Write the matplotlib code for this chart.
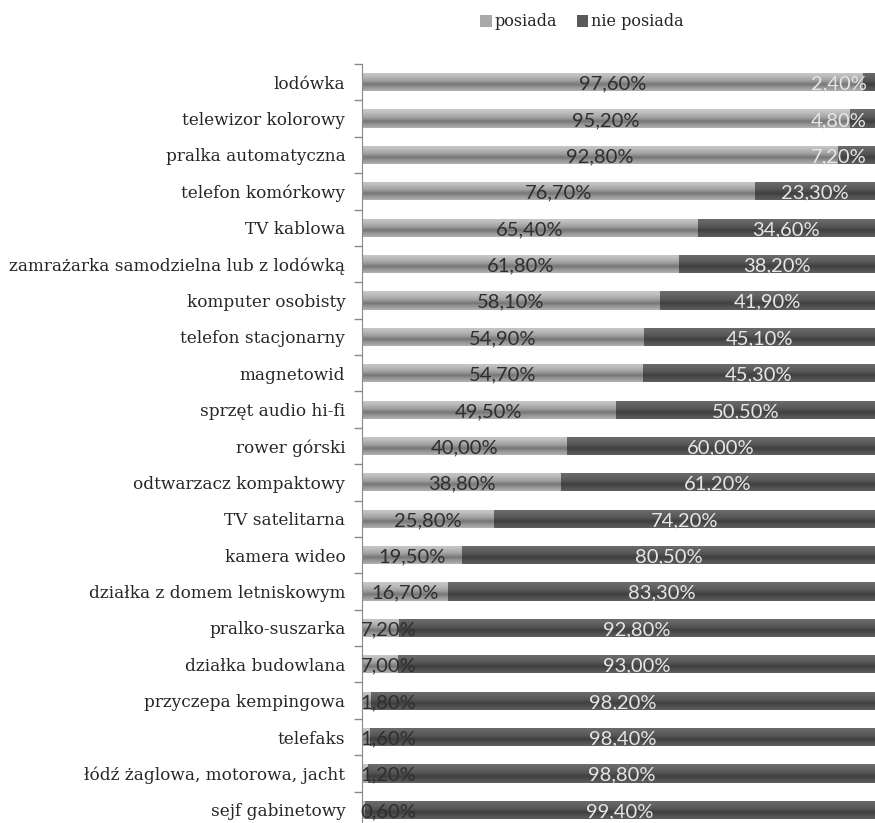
import numpy as np
import matplotlib
matplotlib.use("Agg")
import matplotlib.pyplot as plt
from matplotlib.colors import to_rgb

categories = [
    "lodówka", "telewizor kolorowy", "pralka automatyczna", "telefon komórkowy",
    "TV kablowa", "zamrażarka samodzielna lub z lodówką", "komputer osobisty",
    "telefon stacjonarny", "magnetowid", "sprzęt audio hi-fi", "rower górski",
    "odtwarzacz kompaktowy", "TV satelitarna", "kamera wideo",
    "działka z domem letniskowym", "pralko-suszarka", "działka budowlana",
    "przyczepa kempingowa", "telefaks", "łódź żaglowa, motorowa, jacht",
    "sejf gabinetowy",
]
posiada = [97.6, 95.2, 92.8, 76.7, 65.4, 61.8, 58.1, 54.9, 54.7, 49.5, 40.0,
           38.8, 25.8, 19.5, 16.7, 7.2, 7.0, 1.8, 1.6, 1.2, 0.6]
nie_posiada = [2.4, 4.8, 7.2, 23.3, 34.6, 38.2, 41.9, 45.1, 45.3, 50.5, 60.0,
               61.2, 74.2, 80.5, 83.3, 92.8, 93.0, 98.2, 98.4, 98.8, 99.4]
series_names = ["posiada", "nie posiada"]
series_colors = ["#a8a8a8", "#5a5a5a"]
label_colors = ["#2e2e2e", "#e6e6e6"]

def fmt(v):
    return f"{v:.2f}".replace(".", ",") + "%"

fig = plt.figure(figsize=(8.75, 8.23), dpi=100)
ax = fig.add_axes([362 / 875, -5 / 823, 513 / 875, 764 / 823])

y = np.arange(len(categories))
bar_h = 0.5

# vertical shading profile across each bar (top -> bottom)
prof_t = [0.0, 0.2, 0.45, 0.65, 0.8, 1.0]
prof_f = [1.20, 1.12, 0.95, 0.70, 0.88, 1.05]
tt = np.linspace(0, 1, 64)
shade = np.interp(tt, prof_t, prof_f)

def gradient_image(color):
    base = np.array(to_rgb(color))
    img = np.clip(base[None, :] * shade[:, None], 0, 1)
    return img[:, None, :]

left = np.zeros(len(categories))
for vals, name, col in zip([posiada, nie_posiada], series_names, series_colors):
    bars = ax.barh(y, vals, left=left, height=bar_h, color=col, label=name,
                   edgecolor="none")
    img = gradient_image(col)
    for b in bars:
        x0, y0 = b.get_x(), b.get_y()
        w, h = b.get_width(), b.get_height()
        im = ax.imshow(img, extent=(x0, x0 + w, y0 + h, y0), aspect="auto",
                       interpolation="bilinear", zorder=2)
        im.set_clip_path(b)
    left = left + np.array(vals)

# value labels, kept inside the plot area
half_w = 6.8
for i in range(len(categories)):
    c1 = posiada[i] / 2
    x1 = max(c1, half_w - 1.6)
    ax.text(x1, y[i] + 0.05, fmt(posiada[i]), ha="center", va="center",
            color=label_colors[0], fontsize=14.5, family="Lato", zorder=5)
    c2 = posiada[i] + nie_posiada[i] / 2
    x2 = min(c2, 100 - half_w - 0.3)
    ax.text(x2, y[i] + 0.05, fmt(nie_posiada[i]), ha="center", va="center",
            color=label_colors[1], fontsize=14.5, family="Lato", zorder=5)

ax.set_xlim(0, 100)
ax.set_ylim(len(categories) - 0.5, -0.5)
ax.set_yticks(y)
ax.set_yticklabels(categories, family="DejaVu Serif", fontsize=12.2,
                   color="#262626")
ax.tick_params(axis="y", which="major", length=0, pad=12)
ax.set_yticks(np.arange(-0.5, len(categories), 1), minor=True)
ax.tick_params(axis="y", which="minor", length=6, color="#8a8a8a", width=1)
ax.set_xticks([])
for s in ["top", "right", "bottom"]:
    ax.spines[s].set_visible(False)
ax.spines["left"].set_color("#8a8a8a")

handles, labels = ax.get_legend_handles_labels()
fig.legend(handles, labels, loc="center", bbox_to_anchor=(582 / 875, 1 - 22 / 823),
           ncol=2, frameon=False, prop={"family": "DejaVu Serif", "size": 11.5},
           handlelength=0.7, handleheight=0.7, handletextpad=0.2, columnspacing=1.2)
for t in fig.legends[0].get_texts():
    t.set_color("#262626")

fig.savefig("out.png", dpi=100)
